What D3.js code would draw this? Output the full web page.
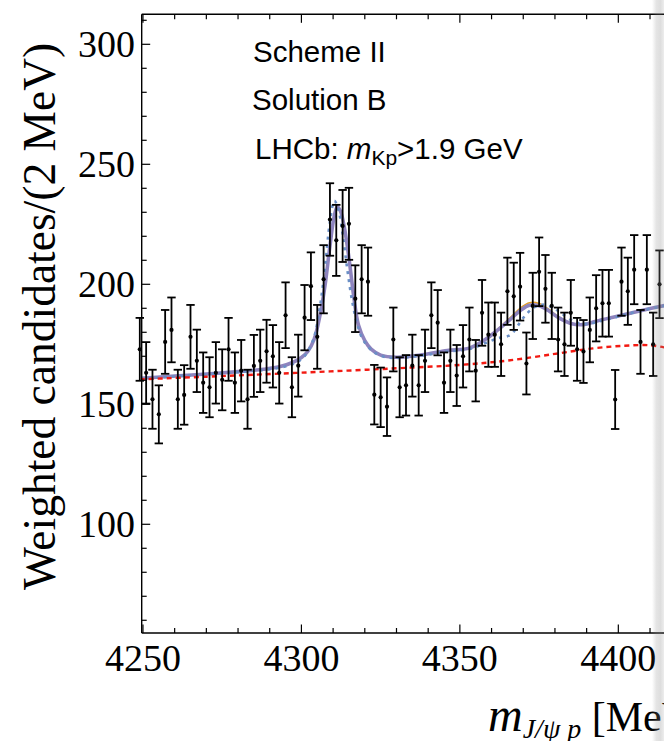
<!DOCTYPE html>
<html><head><meta charset="utf-8">
<script src="https://cdn.jsdelivr.net/npm/d3@7"></script>
<style>html,body{margin:0;padding:0;background:#fff;overflow:hidden}svg{display:block}</style>
</head><body>
<script>
// ---- data ----
const massBins = [4249,4251,4253,4255,4257,4259,4261,4263,4265,4267,4269,4271,4273,4275,4277,4279,4281,4283,4285,4287,4289,4291,4293,4295,4297,4299,4301,4303,4305,4307,4309,4311,4313,4315,4317,4319,4321,4323,4325,4327,4329,4331,4333,4335,4337,4339,4341,4343,4345,4347,4349,4351,4353,4355,4357,4359,4361,4363,4365,4367,4369,4371,4373,4375,4377,4379,4381,4383,4385,4387,4389,4391,4393,4395,4397,4399,4401,4403,4405,4407,4409,4411,4413];
const counts = [172.9,163.1,152.1,145.8,176.0,181.0,152.1,153.9,178.1,168.1,159.0,157.1,163.1,160.2,172.9,159.0,164.0,152.1,166.0,168.1,172.1,170.0,163.1,187.1,157.1,166.1,186.1,199.2,178.1,202.1,227.0,218.3,224.3,225.2,194.0,202.1,201.1,154.0,152.9,149.0,177.0,157.1,157.9,166.1,157.9,168.1,187.1,184.0,159.0,168.1,162.0,170.0,177.0,164.0,188.1,179.0,179.0,175.0,197.1,195.0,199.0,167.0,191.0,205.2,198.1,191.0,177.0,175.0,188.1,172.9,172.0,181.0,190.0,192.1,192.1,152.0,201.1,197.1,206.1,176.0,206.1,175.0,200.0];
const errors = [13.1,12.8,12.3,12.1,13.3,13.5,12.3,12.4,13.3,13.0,12.6,12.5,12.8,12.7,13.1,12.6,12.8,12.3,12.9,13.0,13.1,13.0,12.8,13.7,12.5,12.9,13.6,14.1,13.3,14.2,15.1,14.8,15.0,15.0,13.9,14.2,14.2,12.4,12.4,12.2,13.3,12.5,12.6,12.9,12.6,13.0,13.7,13.6,12.6,13.0,12.7,13.0,13.3,12.8,13.7,13.4,13.4,13.2,14.0,14.0,14.1,12.9,13.8,14.3,14.1,13.8,13.3,13.2,13.7,13.1,13.1,13.5,13.8,13.9,13.9,12.3,14.2,14.0,14.4,13.3,14.4,13.2,14.1];

const fitX = [4249,4260,4270,4280,4288,4293,4297,4300,4302,4304,4306,4307.5,4309,4310.3,4311.3,4312.3,4313.5,4315,4316.5,4318,4320,4322,4325,4330,4338,4346,4353,4358,4362,4366,4369,4372,4375,4378,4381,4385,4389,4393,4400,4407,4416];
const fitPurple = [160.8,161.8,162.6,163.6,164.6,165.6,167.3,169.5,172,177,188,200,216,228,232.3,230.5,224,211,195,183,176.5,173,170.5,169.6,170.6,172.4,173.4,177,181,185.5,189,191.3,191,189,186.2,183.7,183.2,184.6,186.8,189,191.6];
const fitOrange = [160.8,161.8,162.6,163.6,164.6,165.6,167.4,169.6,172.2,177.4,188.6,200.6,216.4,228.2,232.2,230.2,223.6,210.6,194.8,183,176.6,173.1,170.6,169.7,170.7,172.5,173.5,177.2,181.4,186.2,190,192.3,192,189.6,186.5,183.8,183.2,184.6,186.8,189,191.6];
const blueX = [4249,4260,4270,4280,4288,4293,4297,4300,4302,4304,4306,4307.5,4309,4310.4,4311.5,4313,4314.5,4316,4317.5,4319,4321,4323,4326,4330,4338,4346,4353,4358,4362,4366,4370,4373,4376,4379,4382,4386,4390,4394,4400,4407,4416];
const fitBlue = [160.6,161.6,162.4,163.4,164.3,165.2,166.6,168.8,172,178,192,208,226,234.8,232,221,206,193,184,178,174,171.6,169.8,169.3,170.3,172,173,175.5,177.5,179,186,190,191.5,190.5,188,184.5,183.5,184.5,186.6,189,191.4];
const bgX = [4249,4270,4290,4309,4330,4350,4365,4380,4392,4402,4410,4416];
const background = [160.4,161.5,162.6,163.7,165.0,166.4,168.2,171.0,173.3,174.4,174.6,173.3];

const xTicks = [4250,4300,4350,4400];
const yTicks = [100,150,200,250,300];
const texts = ["Scheme II","Solution B"];

// ---- layout ----
const W = 664, H = 741;
const pL = 141.7, pT = 14.3, pB = 633;
const x = d3.scaleLinear().domain([4249.6, 4250 + (700 - 142.8) / 3.17]).range([pL, 700]);
const y = d3.scaleLinear().domain([54.7, 312.5]).range([pB, pT]);

const svg = d3.select("body").append("svg").attr("width", W).attr("height", H);
const defs = svg.append("defs");
defs.append("clipPath").attr("id","plot").append("rect")
  .attr("x", pL).attr("y", pT).attr("width", 700-pL).attr("height", pB-pT);

const curves = svg.append("g").attr("clip-path","url(#plot)");
const line = (xs) => d3.line().x((d,i)=>x(xs[i])).y(d=>y(d)).curve(d3.curveCatmullRom.alpha(0.5));

curves.append("path").datum(fitOrange).attr("d", line(fitX))
  .attr("fill","none").attr("stroke","#E19C24").attr("stroke-width",1.6);
curves.append("path").datum(fitPurple).attr("d", line(fitX))
  .attr("fill","none").attr("stroke","#8E84BE").attr("stroke-width",3.6);
curves.append("path").datum(fitBlue).attr("d", line(blueX))
  .attr("fill","none").attr("stroke","#6A8FC6").attr("stroke-width",2.6).attr("stroke-dasharray","3,5");
curves.append("path").datum(background).attr("d", line(bgX))
  .attr("fill","none").attr("stroke","#F21A12").attr("stroke-width",2.4).attr("stroke-dasharray","5,4");

// ---- data points ----
const pts = svg.append("g");
massBins.forEach((m,i)=>{
  const cx = x(m), v = counts[i], e = errors[i];
  pts.append("line").attr("x1",cx).attr("x2",cx).attr("y1",y(v+e)).attr("y2",y(v-e))
    .attr("stroke","#000").attr("stroke-width",1.8);
  [v+e, v-e].forEach(t=>{
    pts.append("line").attr("x1",cx-4.2).attr("x2",cx+4.2).attr("y1",y(t)).attr("y2",y(t))
      .attr("stroke","#000").attr("stroke-width",1.8);
  });
  pts.append("circle").attr("cx",cx).attr("cy",y(v)).attr("r",2.1).attr("fill","#000");
});

// ---- axes frame ----
const ax = svg.append("g").attr("stroke","#000");
ax.append("line").attr("x1",pL).attr("x2",700).attr("y1",pT).attr("y2",pT).attr("stroke-width",1.4);
ax.append("line").attr("x1",pL).attr("x2",700).attr("y1",pB).attr("y2",pB).attr("stroke-width",1.4);
ax.append("line").attr("x1",pL).attr("x2",pL).attr("y1",pT).attr("y2",pB).attr("stroke-width",1.4);

d3.range(4250, 4420, 10).forEach(t=>{
  const major = xTicks.includes(t);
  const L = major ? 8.5 : 5;
  ax.append("line").attr("x1",x(t)).attr("x2",x(t)).attr("y1",pB).attr("y2",pB-L).attr("stroke-width",1.2);
  ax.append("line").attr("x1",x(t)).attr("x2",x(t)).attr("y1",pT).attr("y2",pT+L).attr("stroke-width",1.2);
});
d3.range(60, 311, 10).forEach(t=>{
  const major = yTicks.includes(t);
  const L = major ? 8.5 : 5;
  ax.append("line").attr("x1",pL).attr("x2",pL+L).attr("y1",y(t)).attr("y2",y(t)).attr("stroke-width",1.2);
});

const serif = "'Liberation Serif','Times New Roman',serif";
svg.append("g").selectAll("text").data(xTicks).join("text")
  .attr("x",d=>x(d)).attr("y",671).attr("text-anchor","middle")
  .attr("font-family",serif).attr("font-size",38).text(d=>d);
svg.append("g").selectAll("text").data(yTicks).join("text")
  .attr("x",135).attr("y",d=>y(d)+12.5).attr("text-anchor","end")
  .attr("font-family",serif).attr("font-size",38).text(d=>d);

// axis titles
svg.append("text").attr("transform","translate(55,590) rotate(-90)")
  .attr("font-family",serif).attr("font-size",45.5).text("Weighted candidates/(2 MeV)");
const xl = svg.append("text").attr("x",488).attr("y",731).attr("font-family",serif).attr("font-size",42);
xl.append("tspan").attr("font-style","italic").attr("font-size",48).text("m");
xl.append("tspan").attr("font-style","italic").attr("font-size",28).attr("dy",7).text("J/ψ p");
xl.append("tspan").attr("dy",-7).text(" [MeV]");

// annotations
const sans = "'Liberation Sans',Arial,sans-serif";
svg.append("text").attr("x",253).attr("y",62).attr("font-family",sans).attr("font-size",29.5).text(texts[0]);
svg.append("text").attr("x",252).attr("y",110).attr("font-family",sans).attr("font-size",29.5).text(texts[1]);
const lh = svg.append("text").attr("x",255).attr("y",159).attr("font-family",sans).attr("font-size",29.5);
lh.append("tspan").text("LHCb: ");
lh.append("tspan").attr("font-style","italic").text("m");
lh.append("tspan").attr("font-size",21).attr("dy",6).text("Kp");
lh.append("tspan").attr("dy",-6).text(">1.9 GeV");

// page-edge shadow on the right
const g = defs.append("linearGradient").attr("id","shade").attr("x1","0").attr("x2","1");
g.append("stop").attr("offset","0").attr("stop-color","#888").attr("stop-opacity",0.0);
g.append("stop").attr("offset","0.35").attr("stop-color","#888").attr("stop-opacity",0.22);
g.append("stop").attr("offset","0.7").attr("stop-color","#888").attr("stop-opacity",0.28);
g.append("stop").attr("offset","1").attr("stop-color","#888").attr("stop-opacity",0.15);
svg.append("rect").attr("x",652).attr("y",0).attr("width",12).attr("height",H).attr("fill","url(#shade)");
</script>
</body></html>
